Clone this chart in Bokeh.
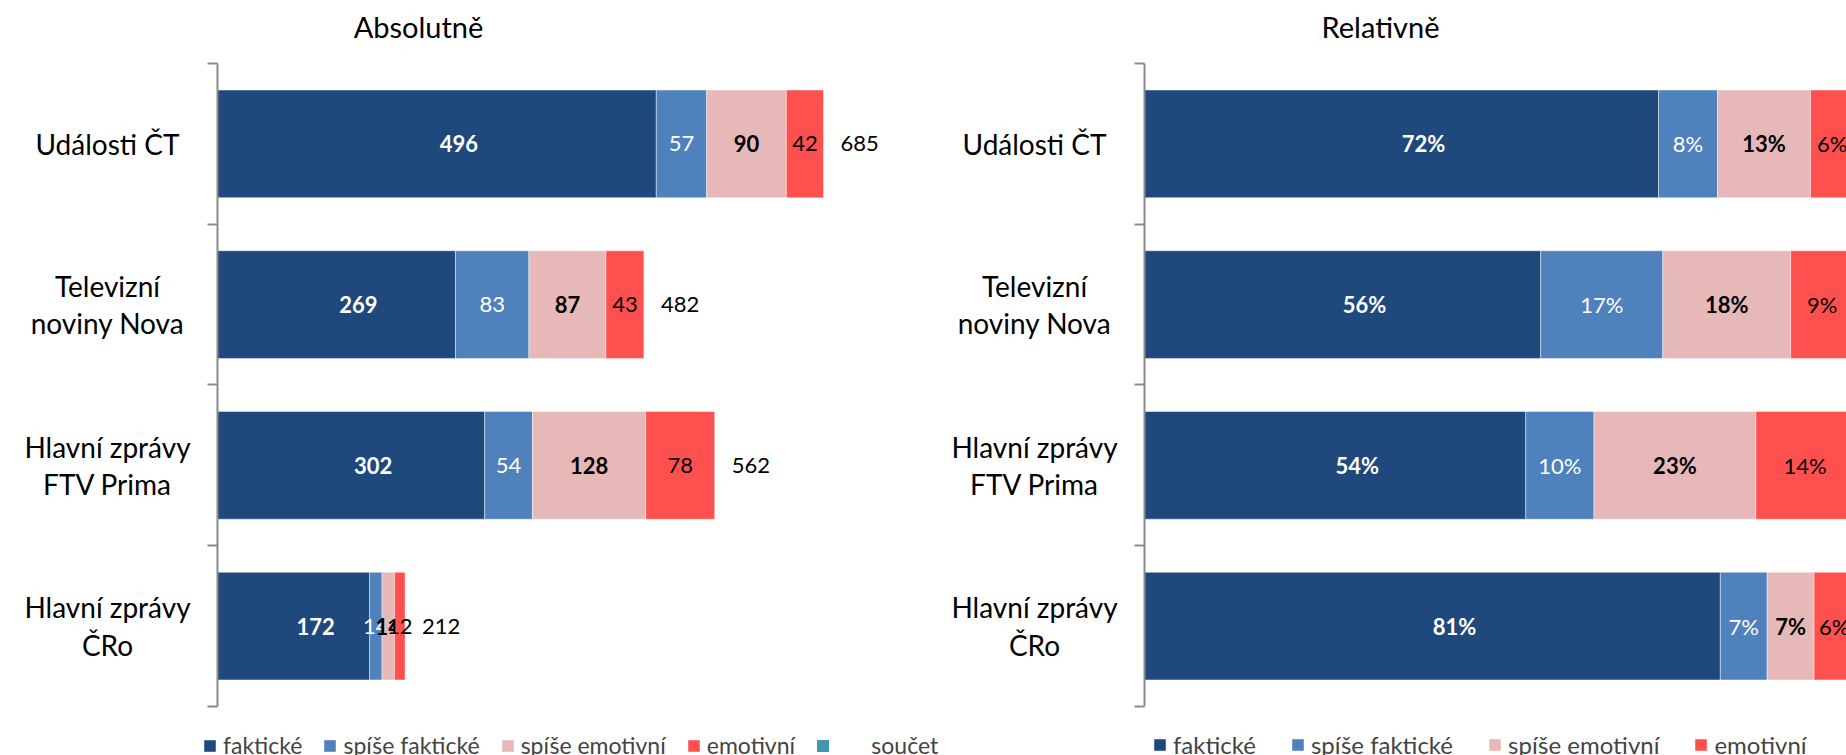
from bokeh.plotting import figure
from bokeh.models import Range1d, FixedTicker, Legend, LegendItem
from bokeh.layouts import row
from bokeh.core.properties import value
from bokeh.embed import file_html
from bokeh.resources import INLINE

# ---- data ----
categories = ["Události ČT", "Televizní\nnoviny Nova", "Hlavní zprávy\nFTV Prima", "Hlavní zprávy\nČRo"]
series = ["faktické", "spíše faktické", "spíše emotivní", "emotivní"]
total_name = "součet"

abs_fakticke = [496, 269, 302, 172]
abs_spise_fakticke = [57, 83, 54, 14]
abs_spise_emotivni = [90, 87, 128, 14]
abs_emotivni = [42, 43, 78, 12]
abs_soucet = [685, 482, 562, 212]

rel_fakticke = [72.4, 55.8, 53.7, 81.1]
rel_spise_fakticke = [8.3, 17.2, 9.6, 6.6]
rel_spise_emotivni = [13.1, 18.0, 22.8, 6.6]
rel_emotivni = [6.1, 8.9, 13.9, 5.7]

colors = ["#1F497D", "#4F81BD", "#E6B9B8", "#FF5050"]
total_color = "#4198AF"
label_colors = ["white", "white", "black", "black"]
label_styles = ["bold", "normal", "bold", "normal"]

FONT = "Lato"
H = 755


def make_chart(title, title_dx, values, fmt, x_start, x_end, width,
               totals=None, legend_x=0, legend_spacing=20, legend_font="24px"):
    n = len(categories)
    ys = [n - i - 0.5 for i in range(n)]
    p = figure(width=width, height=H, output_backend="svg", toolbar_location=None,
               x_range=Range1d(x_start, x_end), y_range=Range1d(-0.305, n + 0.392),
               x_axis_location=None, min_border_left=0, min_border_right=0,
               min_border_top=0, min_border_bottom=0)
    p.outline_line_color = None
    p.grid.visible = False
    p.background_fill_color = "white"
    p.border_fill_color = "white"

    ax = p.yaxis[0]
    ax.fixed_location = 0
    ax.bounds = (0, n)
    ax.ticker = FixedTicker(ticks=[], minor_ticks=list(range(n + 1)))
    ax.major_label_text_font_size = "0px"
    ax.major_tick_in = 0
    ax.major_tick_out = 0
    ax.minor_tick_in = 0
    ax.minor_tick_out = 10
    ax.minor_tick_line_color = "#898989"
    ax.minor_tick_line_width = 2
    ax.axis_line_color = "#898989"
    ax.axis_line_width = 2

    # chart title
    p.text(x=[0], y=[n], text=[title], x_offset=title_dx, y_offset=-37,
           text_font=value(FONT), text_font_size="29px", text_color="black",
           text_align="center", text_baseline="alphabetic")
    # category labels
    p.text(x=[0] * n, y=ys, text=categories, x_offset=-110, text_font=value(FONT),
           text_font_size="28px", text_color="black", text_align="center",
           text_baseline="middle", text_line_height=1.1)

    lefts = [0.0] * n
    renderers = []
    for k, vals in enumerate(values):
        rights = [l + v for l, v in zip(lefts, vals)]
        r = p.hbar(y=ys, left=lefts, right=rights, height=0.67, fill_color=colors[k],
                   line_color="white", line_alpha=0.45, line_width=1)
        renderers.append(r)
        centers = [l + v / 2 for l, v in zip(lefts, vals)]
        p.text(x=centers, y=ys, text=[fmt(v) for v in vals], text_font=value(FONT),
               text_font_size="22px", text_font_style=label_styles[k],
               text_color=label_colors[k], text_align="center", text_baseline="middle",
               x_offset=22 if k == 0 else 0)
        lefts = rights

    items = [LegendItem(label=s, renderers=[r]) for s, r in zip(series, renderers)]
    if totals is not None:
        p.text(x=totals, y=ys, text=[str(t) for t in totals], text_font=value(FONT),
               text_font_size="22px", text_color="black", text_align="left",
               text_baseline="middle", x_offset=17)
        dummy = p.hbar(y=ys, left=totals, right=totals, height=0.67,
                       fill_color=total_color, line_color=None)
        items.append(LegendItem(label="\u00a0" * 6 + total_name, renderers=[dummy]))

    legend = Legend(items=items, orientation="horizontal", location=(legend_x, -4),
                    label_text_font=FONT, label_text_font_size=legend_font,
                    glyph_width=15, glyph_height=15, label_standoff=6,
                    spacing=legend_spacing, padding=0, margin=0,
                    border_line_color=None, background_fill_alpha=0)
    p.add_layout(legend, "center")
    return p


abs_values = [abs_fakticke, abs_spise_fakticke, abs_spise_emotivni, abs_emotivni]
rel_values = [rel_fakticke, rel_spise_fakticke, rel_spise_emotivni, rel_emotivni]

# left: 0.8847 px per unit, axis 217 px from the left edge, 948 px wide
p1 = make_chart("Absolutně", 201, abs_values, lambda v: str(v), -245.3, 826.3, 948,
                totals=abs_soucet, legend_x=202, legend_spacing=20, legend_font="23px")
# right: 7.10 px per percent, axis 196 px from the panel's left edge, 898 px wide
p2 = make_chart("Relativně", 236, rel_values, lambda v: f"{round(v)}%", -27.61, 98.87, 898,
                legend_x=204, legend_spacing=34, legend_font="24px")

layout = row(p1, p2)
open("out.html", "w").write(file_html(layout, INLINE))
